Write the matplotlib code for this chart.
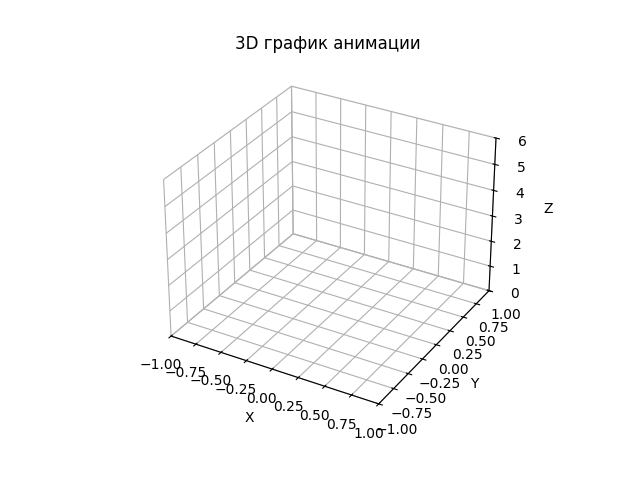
import matplotlib
matplotlib.use("Agg")
import matplotlib.pyplot as plt

# animation data for the first frame (nothing drawn yet)
x_data = []
y_data = []
z_data = []

x_limits = (-1, 1)
y_limits = (-1, 1)
z_limits = (0, 6)

fig = plt.figure(figsize=(6.4, 4.8), dpi=100)
ax = fig.add_subplot(111, projection='3d')

line, = ax.plot(x_data, y_data, z_data, lw=2)

# white panes, like the reference
ax.xaxis.pane.fill = False
ax.yaxis.pane.fill = False
ax.zaxis.pane.fill = False

ax.set_xlim(*x_limits)
ax.set_ylim(*y_limits)
ax.set_zlim(*z_limits)
ax.set_xlabel('X')
ax.set_ylabel('Y')
ax.set_zlabel('Z')
ax.set_title('3D график анимации')

fig.savefig('out.png', dpi=100)
